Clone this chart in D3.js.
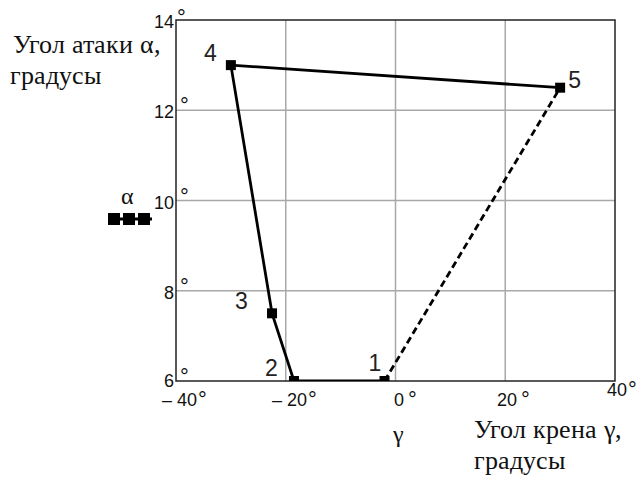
<!DOCTYPE html>
<html><head><meta charset="utf-8">
<script src="https://cdn.jsdelivr.net/npm/d3@7"></script>
<style>
@font-face { font-family: "TitleSerif"; src: local("Liberation Serif"), local("LiberationSerif"), local("Liberation Serif Regular"), local("Tinos"), local("Noto Serif"), local("DejaVu Serif"); }
</style>
</head><body>
<svg id="c" width="641" height="477" style="position:absolute;left:0;top:0;background:#fff"></svg>
<script>
const pointLabels = ["1","2","3","4","5"];
const gammaDeg = [-2, -18.5, -22.5, -30, 30];
const alphaDeg = [6, 6, 7.5, 13, 12.5];
const xTicks = [-40, -20, 0, 20, 40];
const yTicks = [6, 8, 10, 12, 14];
const xTickText = ["\u2013 40", "\u2013 20", "0", "20", "40"];
const yTickText = ["6", "8", "10", "12", "14"];

const svg = d3.select("#c");
const x = d3.scaleLinear().domain([-40, 40]).range([176, 615]);
const y = d3.scaleLinear().domain([6, 14]).range([381, 20]);
const SF = '"TitleSerif", "Liberation Serif", "Noto Serif", "DejaVu Serif"';
const SS = '"Liberation Sans"';

// grid
svg.append("g").selectAll("line").data(xTicks.slice(1, -1)).join("line")
  .attr("x1", d => x(d)).attr("x2", d => x(d)).attr("y1", y(14)).attr("y2", y(6))
  .attr("stroke", "#a8a8a8").attr("stroke-width", 1.5);
svg.append("g").selectAll("line").data(yTicks.slice(1, -1)).join("line")
  .attr("y1", d => y(d)).attr("y2", d => y(d)).attr("x1", x(-40)).attr("x2", x(40))
  .attr("stroke", "#a8a8a8").attr("stroke-width", 1.5);
svg.append("rect").attr("x", x(-40)).attr("y", y(14))
  .attr("width", x(40) - x(-40)).attr("height", y(6) - y(14))
  .attr("fill", "none").attr("stroke", "#222").attr("stroke-width", 1.5);

// clip
svg.append("clipPath").attr("id", "pc").append("rect")
  .attr("x", x(-40)).attr("y", y(14)).attr("width", x(40) - x(-40)).attr("height", y(6) - y(14));

const pts = gammaDeg.map((g, i) => ({g, a: alphaDeg[i], l: pointLabels[i]}));
const line = d3.line().x(d => x(d.g)).y(d => y(d.a));
const plot = svg.append("g").attr("clip-path", "url(#pc)");
plot.append("path").attr("d", line(pts)).attr("fill", "none")
  .attr("stroke", "#000").attr("stroke-width", 2.8).attr("stroke-linejoin", "round");
plot.append("path").attr("d", line([pts[0], pts[4]])).attr("fill", "none")
  .attr("stroke", "#000").attr("stroke-width", 2.8).attr("stroke-dasharray", "7,4");
plot.selectAll("rect.m").data(pts).join("rect").attr("class", "m")
  .attr("x", d => x(d.g) - 5).attr("y", d => y(d.a) - 5)
  .attr("width", 10).attr("height", 10).attr("fill", "#000");

// point labels
const lblOff = [[-16, -10], [-29, -5], [-37, -4], [-27, -4], [8, 0]];
svg.selectAll("text.pl").data(pts).join("text").attr("class", "pl")
  .attr("x", (d, i) => x(d.g) + lblOff[i][0]).attr("y", (d, i) => y(d.a) + lblOff[i][1])
  .style("font-family", SS).style("font-size", "23px").style("fill", "#222").text(d => d.l);

// y tick labels
svg.selectAll("text.yt").data(yTicks).join("text").attr("class", "yt")
  .attr("x", 174).attr("y", d => y(d) + (d === 6 ? 6 : 8)).attr("text-anchor", "end")
  .style("font-family", SS).style("font-size", "18px").style("fill", "#111")
  .text((d, i) => yTickText[i]);
svg.selectAll("text.yd").data(yTicks).join("text").attr("class", "yd")
  .attr("x", d => d === 14 ? 177 : 180).attr("y", d => y(d) + (d === 14 ? 5 : 3))
  .style("font-family", SS).style("font-size", "22px").style("fill", "#111").text("\u00b0");

// x tick labels
const xLab = svg.selectAll("text.xt").data(xTicks).join("text").attr("class", "xt")
  .attr("x", (d, i) => [162, 272, 394, 497, 607][i]).attr("y", d => d === 40 ? 396 : 406)
  .style("font-family", SS).style("font-size", "18px").style("fill", "#111");
xLab.append("tspan").text((d, i) => xTickText[i]);
xLab.append("tspan").attr("dx", (d, i) => (i === 2 || i === 3) ? 4 : 1).attr("dy", 1)
  .style("font-size", "22px").text("\u00b0");

// axis titles
const titles = [
  {t: "Угол атаки α,", x: 13, y: 53},
  {t: "градусы", x: 10, y: 84},
  {t: "Угол крена γ,", x: 474, y: 438},
  {t: "градусы", x: 474, y: 469}
];
svg.selectAll("text.ti").data(titles).join("text").attr("class", "ti")
  .attr("x", d => d.x).attr("y", d => d.y)
  .style("font-family", SF).style("font-size", "26px").style("fill", "#111").text(d => d.t);
svg.append("text").attr("x", 393).attr("y", 442)
  .style("font-family", SF).style("font-size", "24px").style("fill", "#111").text("γ");

// legend
svg.append("text").attr("x", 121).attr("y", 204)
  .style("font-family", SF).style("font-size", "24px").style("fill", "#111").text("α");
svg.append("line").attr("x1", 108).attr("x2", 152).attr("y1", 219).attr("y2", 219)
  .attr("stroke", "#000").attr("stroke-width", 2.8);
svg.selectAll("rect.lg").data([114, 129, 144]).join("rect").attr("class", "lg")
  .attr("x", d => d - 6).attr("y", 213).attr("width", 12).attr("height", 12).attr("fill", "#000");
</script>
</body></html>
